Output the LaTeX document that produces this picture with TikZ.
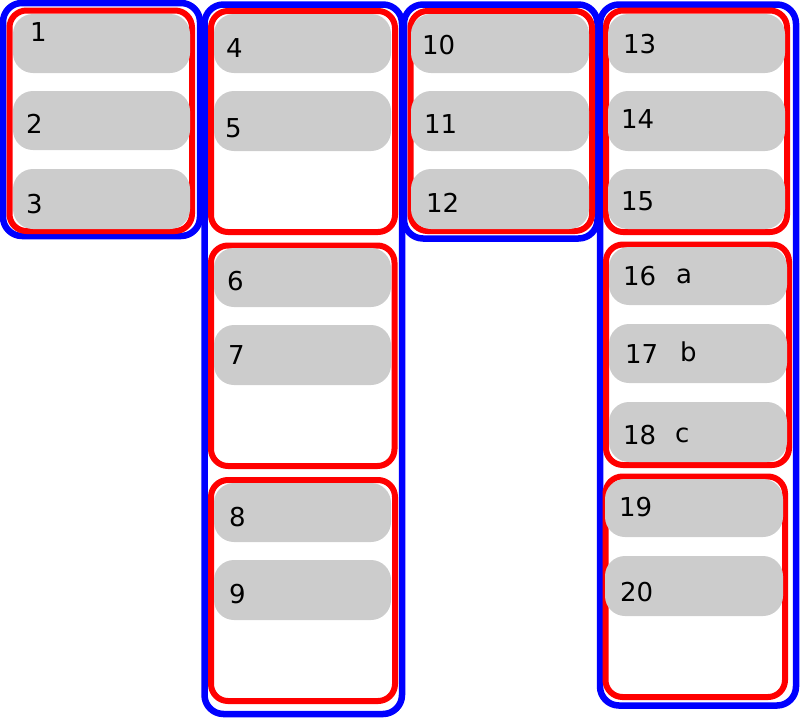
\documentclass[tikz,border=0pt]{standalone}
\usepackage{fontspec}
\setmainfont{DejaVu Sans}
\begin{document}
\begin{tikzpicture}[x=1pt,y=-1pt,
  outerbox/.style={draw=blue,line width=6.5pt,rounded corners=19pt},
  innerbox/.style={draw=red,line width=6pt,rounded corners=17pt},
  pill/.style={fill=black!20,rounded corners=20pt},
  lbl/.style={anchor=base west,inner sep=0pt,font=\fontsize{26}{30}\selectfont}]
\useasboundingbox (0,0) rectangle (800,718);
% blue outer groups
\path[outerbox] (3,3) rectangle (200,236);
\path[outerbox] (204.5,4.5) rectangle (402,714);
\path[outerbox] (404,4.5) rectangle (597.5,238.5);
\path[outerbox] (600,4.5) rectangle (796,705.5);
% red inner groups
\path[innerbox] (9.5,10.5) rectangle (192,231);
\path[innerbox] (211,11) rectangle (395,232);
\path[innerbox] (211,245.5) rectangle (394.5,466);
\path[innerbox] (211,480) rectangle (395,701);
\path[innerbox] (410.5,11) rectangle (592,231);
\path[innerbox] (606,10.5) rectangle (787,232);
\path[innerbox] (606,244.5) rectangle (789,465);
\path[innerbox] (605.5,476.5) rectangle (785,697);
% pills
\path[pill] (13,14) rectangle (190,73);
\path[pill] (13,91) rectangle (190,150);
\path[pill] (13,169) rectangle (190,229);
\path[pill] (214,14) rectangle (391,73);
\path[pill] (214,91) rectangle (391,151);
\path[pill] (214,248) rectangle (391,307);
\path[pill] (214,325) rectangle (391,385);
\path[pill] (214,483) rectangle (391,542);
\path[pill] (214,560) rectangle (391,620);
\path[pill] (411,14) rectangle (589,73);
\path[pill] (411,91) rectangle (589,151);
\path[pill] (411,169) rectangle (589,229);
\path[pill] (608,14) rectangle (785,73);
\path[pill] (608,91) rectangle (785,151);
\path[pill] (608,169) rectangle (785,229);
\path[pill] (609,247) rectangle (787,305);
\path[pill] (609,324) rectangle (787,383);
\path[pill] (609,402) rectangle (787,462);
\path[pill] (605,479) rectangle (783,537);
\path[pill] (605,556) rectangle (783,616);
% labels
\node[lbl] (t1) at (30,41) {1};
\node[lbl] (t2) at (26,133) {2};
\node[lbl] (t3) at (26,213) {3};
\node[lbl] (t4) at (226,57) {4};
\node[lbl] (t5) at (225,137) {5};
\node[lbl] (t6) at (227,290) {6};
\node[lbl] (t7) at (228,364) {7};
\node[lbl] (t8) at (229,526) {8};
\node[lbl] (t9) at (229,603) {9};
\node[lbl] (t10) at (422,54) {10};
\node[lbl] (t11) at (424,133) {11};
\node[lbl] (t12) at (426,212) {12};
\node[lbl] (t13) at (623,53) {13};
\node[lbl] (t14) at (621,128) {14};
\node[lbl] (t15) at (621,210) {15};
\node[lbl] (t16) at (623,285) {16};
\node[lbl] (ta) at (676,283) {a};
\node[lbl] (t17) at (625,363) {17};
\node[lbl] (tb) at (680,361) {b};
\node[lbl] (t18) at (623,444) {18};
\node[lbl] (tc) at (675,442) {c};
\node[lbl] (t19) at (619,516) {19};
\node[lbl] (t20) at (620,601) {20};
\end{tikzpicture}
\end{document}
